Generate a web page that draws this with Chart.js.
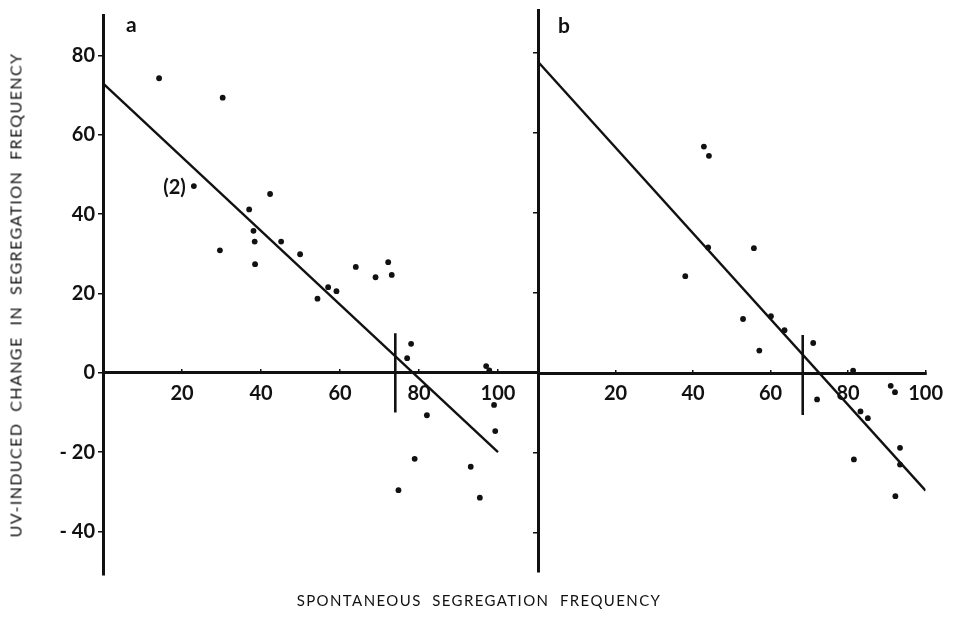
<!DOCTYPE html>
<html>
<head>
<meta charset="utf-8">
<script src="https://cdn.jsdelivr.net/npm/chart.js@4"></script>
<style>
  body { margin:0; background:#fff; }
  #wrap { position:relative; width:957px; height:617px; font-family:Lato, sans-serif; color:#111; }
  #wrap canvas { position:absolute; left:0; top:0; }
  .ytitle { position:absolute; left:15px; top:295px; transform:translate(-50%,-50%) rotate(-90deg);
            white-space:pre; font-size:16px; letter-spacing:1.4px; }
  .xtitle { position:absolute; left:479px; top:600px; transform:translate(-50%,-50%);
            white-space:pre; font-size:15px; letter-spacing:1.4px; }
  .panel { position:absolute; font-weight:bold; font-size:21px; }
</style>
</head>
<body>
<div id="wrap">
  <canvas id="chartA" width="957" height="617"></canvas>
  <canvas id="chartB" width="957" height="617"></canvas>
  <div class="ytitle">UV-INDUCED  CHANGE  IN  SEGREGATION  FREQUENCY</div>
  <div class="xtitle">SPONTANEOUS  SEGREGATION  FREQUENCY</div>
  <div class="panel" style="left:126px;top:11px">a</div>
  <div class="panel" style="left:558px;top:12px">b</div>
</div>
<script>
// valeurs
const xTicks = [20, 40, 60, 80, 100];
const yTicks = [-40, -20, 0, 20, 40, 60, 80];
const yTickLabels = ['- 40', '- 20', '0', '20', '40', '60', '80'];

// panneau a
const aX = [14.2, 30.3, 23.0, 42.3, 37.0, 38.1, 38.4, 45.1, 29.6, 49.9, 38.5, 54.3, 57.0, 59.1, 64.0,
            69.0, 72.2, 73.1, 78.0, 77.0, 97.0, 97.8, 99.0, 82.0, 99.3, 78.9, 93.1, 74.8, 95.4];
const aY = [74.3, 69.4, 47.1, 45.1, 41.2, 35.8, 33.1, 33.1, 30.9, 29.9, 27.4, 18.7, 21.6, 20.6, 26.7,
            24.1, 27.9, 24.7, 7.3, 3.7, 1.7, 0.6, -8.1, -10.7, -14.7, -21.7, -23.7, -29.6, -31.5];
const aFitX = [0, 100];
const aFitY = [73, -20];
const aCutX = [74, 74];
const aCutY = [10, -10];
const aNote = { text: '(2)', x: 23.0, y: 47.1 };

// panneau b
const bX = [42.8, 44.1, 43.9, 55.7, 38.0, 52.9, 60.1, 57.1, 63.6, 71.0, 81.3, 91.0, 92.1, 72.0,
            83.2, 85.1, 93.4, 93.4, 81.5, 92.2];
const bY = [56.6, 54.3, 31.4, 31.2, 24.2, 13.5, 14.2, 5.6, 10.7, 7.5, 0.6, -3.2, -4.8, -6.6,
            -9.6, -11.3, -18.7, -22.9, -21.6, -30.8];
const bFitX = [0, 100];
const bFitY = [77.8, -29.4];
const bCutX = [68.3, 68.3];
const bCutY = [9.5, -10.5];

const zip = (xs, ys) => xs.map((x, i) => ({ x: x, y: ys[i] }));
const tickFont = { family: 'Lato', size: 20, weight: 'bold' };

// petite annotation "(2)" placée à gauche du point
const notePlugin = {
  id: 'note',
  afterDatasetsDraw(chart, args, opts){
    if(!opts.text) return;
    const ctx = chart.ctx;
    const px = chart.scales.x.getPixelForValue(opts.x);
    const py = chart.scales.y.getPixelForValue(opts.y);
    ctx.save();
    ctx.fillStyle = '#111';
    ctx.font = 'bold 20px Lato';
    ctx.textAlign = 'right';
    ctx.textBaseline = 'middle';
    ctx.fillText(opts.text, px - 8, py + 1);
    ctx.restore();
  }
};

function makePanel(id, cfg){
  return new Chart(document.getElementById(id), {
    type: 'scatter',
    data: {
      datasets: [
        { data: zip(cfg.xs, cfg.ys), pointRadius: 2.9, pointBackgroundColor: '#111', pointBorderWidth: 0 },
        { type: 'line', data: zip(cfg.fitX, cfg.fitY), borderColor: '#111', borderWidth: 2.4, pointRadius: 0 },
        { type: 'line', data: zip(cfg.cutX, cfg.cutY), borderColor: '#111', borderWidth: 2.6, pointRadius: 0 }
      ]
    },
    options: {
      responsive: false,
      animation: false,
      events: [],
      layout: { padding: cfg.padding },
      plugins: { legend: { display: false }, tooltip: { enabled: false }, note: cfg.note || {} },
      scales: {
        x: {
          type: 'linear', min: 0, max: cfg.xMax, position: { y: 0 },
          afterBuildTicks: s => { s.ticks = xTicks.map(v => ({ value: v })); },
          afterFit: s => { s.height = 0; },
          grid: { drawOnChartArea: false, color: '#111', lineWidth: 1.5, tickLength: -5 },
          border: { color: '#111', width: 3 },
          ticks: { color: '#111', font: tickFont, padding: 14, maxRotation: 0, autoSkip: false }
        },
        y: {
          type: 'linear', min: cfg.yMin, max: cfg.yMax, position: 'left',
          afterBuildTicks: s => { s.ticks = yTicks.map(v => ({ value: v })); },
          afterFit: s => { s.width = cfg.yWidth; },
          grid: { drawOnChartArea: false, color: '#111', lineWidth: 1.5, tickLength: 5 },
          border: { color: '#111', width: 3 },
          ticks: {
            display: cfg.showY, color: '#111', font: tickFont, padding: 3,
            callback: v => yTickLabels[yTicks.indexOf(v)]
          }
        }
      }
    },
    plugins: [notePlugin]
  });
}

makePanel('chartA', {
  xs: aX, ys: aY, fitX: aFitX, fitY: aFitY, cutX: aCutX, cutY: aCutY, note: aNote,
  xMax: 110, yMin: -51, yMax: 90.25, yWidth: 103, showY: true,
  padding: { top: 10, bottom: 42, left: 0, right: 419.5 }
});
makePanel('chartB', {
  xs: bX, ys: bY, fitX: bFitX, fitY: bFitY, cutX: bCutX, cutY: bCutY,
  xMax: 100, yMin: -49.75, yMax: 90.75, yWidth: 538, showY: false,
  padding: { top: 10, bottom: 45, left: 0, right: 23 }
});
</script>
</body>
</html>
